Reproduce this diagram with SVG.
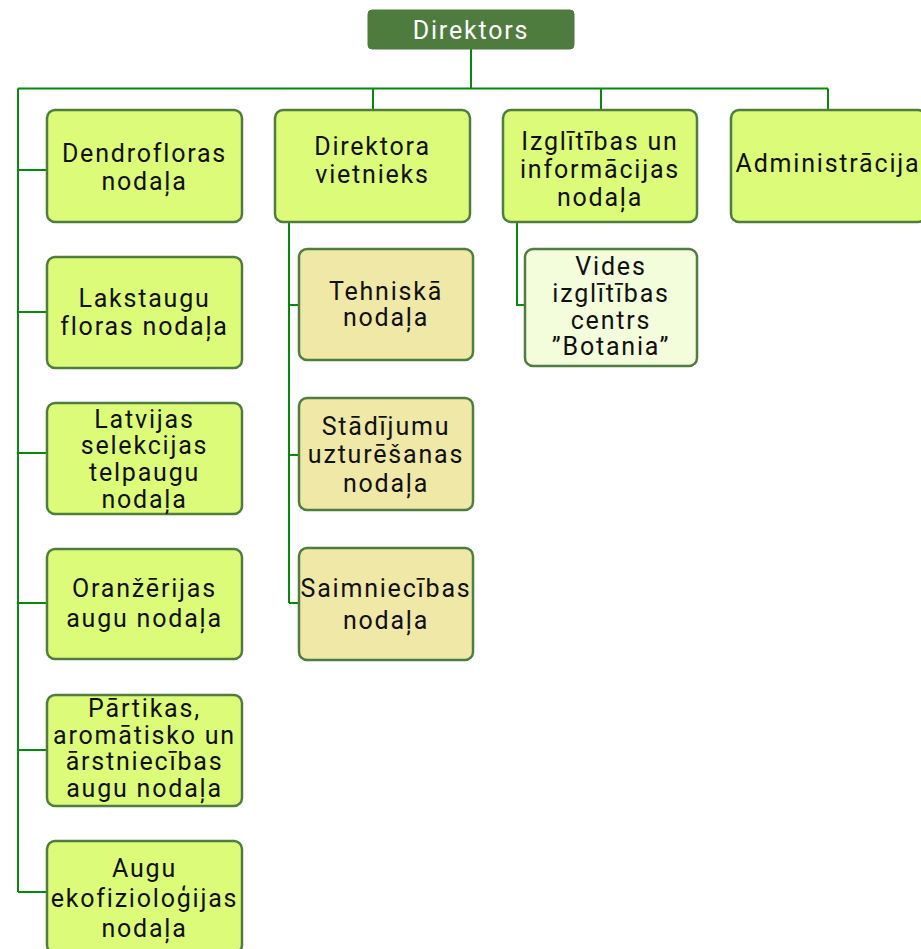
<svg xmlns="http://www.w3.org/2000/svg" width="921" height="949" viewBox="0 0 921 949">
<style>
.box{fill:#dcfb79;stroke:#4f7d3f;stroke-width:2.5}
.sub{fill:#efe8a6;stroke:#4f7d3f;stroke-width:2.5}
.light{fill:#f3fcdb;stroke:#4f7d3f;stroke-width:2.5}
.top{fill:#4e7b3e;stroke:#4e7b3e;stroke-width:1}
text{font-family:Roboto,"Liberation Sans",sans-serif;font-size:25px;letter-spacing:1.8px;text-anchor:middle;fill:#111}
.w{fill:#ffffff}
.conn{fill:none;stroke:#078a0c;stroke-width:2}
</style>
<g id="connectors">
<path class="conn" d="M471 49V88.5M18 88.5H828M373 88.5V110M601 88.5V110M828 88.5V110"/>
<path class="conn" d="M18 88.5V892M18 170H47M18 312H47M18 453H47M18 603H47M18 750H47M18 892H47"/>
<path class="conn" d="M289 222V603M289 305H299M289 455H299M289 603H299"/>
<path class="conn" d="M517 222V305H525"/>
</g>
<g id="direktors"><rect class="top" x="368" y="10" width="206" height="39" rx="4"/><text class="w" x="471" y="39">Direktors</text></g>
<g id="dendrofloras"><rect class="box" x="47" y="110" width="195" height="112" rx="8"/><text x="144.5" y="162">Dendrofloras</text><text x="144.5" y="190">nodaļa</text></g>
<g id="lakstaugu"><rect class="box" x="47" y="257" width="195" height="111" rx="8"/><text x="144.5" y="307">Lakstaugu</text><text x="144.5" y="335">floras nodaļa</text></g>
<g id="latvijas"><rect class="box" x="47" y="403" width="195" height="111" rx="8"/><text x="144.5" y="428">Latvijas</text><text x="144.5" y="454">selekcijas</text><text x="144.5" y="481">telpaugu</text><text x="144.5" y="508">nodaļa</text></g>
<g id="oranzerijas"><rect class="box" x="47" y="549" width="195" height="110" rx="8"/><text x="144.5" y="597">Oranžērijas</text><text x="144.5" y="627">augu nodaļa</text></g>
<g id="partikas"><rect class="box" x="47" y="695" width="195" height="111" rx="8"/><text x="144.5" y="717">Pārtikas,</text><text x="144.5" y="744">aromātisko un</text><text x="144.5" y="770">ārstniecības</text><text x="144.5" y="797">augu nodaļa</text></g>
<g id="ekofiziologijas"><rect class="box" x="47" y="841" width="195" height="112" rx="8"/><text x="144.5" y="877">Augu</text><text x="144.5" y="907">ekofizioloģijas</text><text x="144.5" y="937">nodaļa</text></g>
<g id="vietnieks"><rect class="box" x="275" y="110" width="195" height="112" rx="8"/><text x="372.5" y="155">Direktora</text><text x="372.5" y="183">vietnieks</text></g>
<g id="tehniska"><rect class="sub" x="299" y="249" width="174" height="111" rx="8"/><text x="386" y="300">Tehniskā</text><text x="386" y="326">nodaļa</text></g>
<g id="stadijumu"><rect class="sub" x="299" y="398" width="174" height="112" rx="8"/><text x="386" y="435">Stādījumu</text><text x="386" y="463">uzturēšanas</text><text x="386" y="492">nodaļa</text></g>
<g id="saimniecibas"><rect class="sub" x="299" y="548" width="174" height="112" rx="8"/><text x="386" y="597">Saimniecības</text><text x="386" y="629">nodaļa</text></g>
<g id="izglitibas"><rect class="box" x="503" y="110" width="194" height="112" rx="8"/><text x="600" y="150">Izglītības un</text><text x="600" y="178">informācijas</text><text x="600" y="206">nodaļa</text></g>
<g id="botania"><rect class="light" x="525" y="249" width="172" height="117" rx="8"/><text x="611" y="275">Vides</text><text x="611" y="302">izglītības</text><text x="611" y="329">centrs</text><text x="611" y="355">”Botania”</text></g>
<g id="administracija"><rect class="box" x="731" y="110" width="195" height="112" rx="8"/><text x="828" y="172">Administrācija</text></g>
</svg>
